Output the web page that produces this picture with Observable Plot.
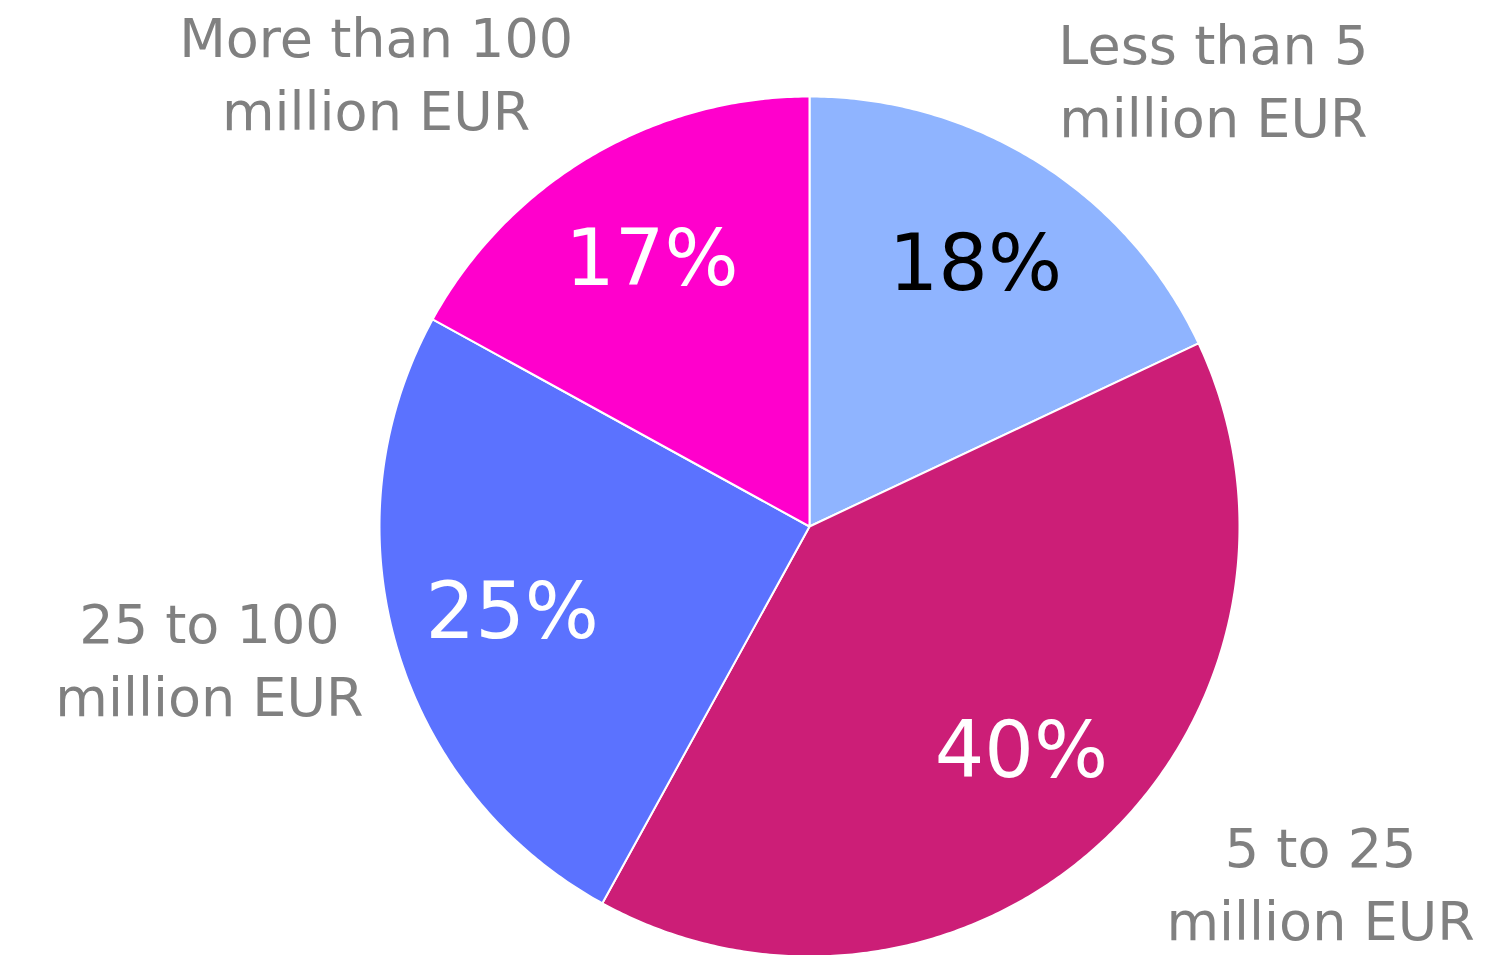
<!DOCTYPE html>
<html>
<head>
<meta charset="utf-8">
<script src="https://cdn.jsdelivr.net/npm/d3@7"></script>
<script src="https://cdn.jsdelivr.net/npm/@observablehq/plot@0.6"></script>
<style>
  html, body { margin: 0; padding: 0; background: #ffffff; }
  #chart svg { display: block; }
</style>
</head>
<body>
<div id="chart"></div>
<script>
// ---- data ----
const categories = ["Less than 5\nmillion EUR", "5 to 25\nmillion EUR", "25 to 100\nmillion EUR", "More than 100\nmillion EUR"];
const shares = [18, 40, 25, 17];
const sliceColors = ["#8FB4FF", "#CC1E77", "#5B72FF", "#FF00CC"];
const valueColors = ["#000000", "#FFFFFF", "#FFFFFF", "#FFFFFF"];

// ---- layout ----
const W = 1506, H = 955;
const CX = 809, CY = 526, RADIUS = 430;
const FONT = "'DejaVu Sans', 'Noto Sans', sans-serif";
const LABEL_SIZE = 54, LABEL_LH = 73, VALUE_SIZE = 78;

const data = categories.map((c, i) => ({cat: c, share: shares[i], color: sliceColors[i], vcolor: valueColors[i]}));
const arcs = d3.pie().sort(null).value(d => d.share)(data);

// slice polygons (unit radius, y up)
const pts = [];
arcs.forEach(a => {
  pts.push({cat: a.data.cat, color: a.data.color, x: 0, y: 0});
  const n = Math.max(2, Math.ceil((a.endAngle - a.startAngle) / (Math.PI / 360)));
  for (let k = 0; k <= n; k++) {
    const t = a.startAngle + (a.endAngle - a.startAngle) * k / n;
    pts.push({cat: a.data.cat, color: a.data.color, x: Math.sin(t), y: Math.cos(t)});
  }
});

// value labels inside slices
const valueLabels = arcs.map(a => {
  const m = (a.startAngle + a.endAngle) / 2;
  return {text: `${a.data.share}%`, color: a.data.vcolor, x: 0.72 * Math.sin(m), y: 0.72 * Math.cos(m)};
});

// outside category labels: box placed just outside the pie
const ctx = document.createElement("canvas").getContext("2d");
ctx.font = `${LABEL_SIZE}px ${FONT}`;
const R_OUT = RADIUS * 1.08;
const catLabels = arcs.map(a => {
  const m = (a.startAngle + a.endAngle) / 2;
  const lines = a.data.cat.split("\n");
  const w = d3.max(lines, l => ctx.measureText(l).width) / 2;
  const h = 57;
  const dx = Math.sin(m), dy = -Math.cos(m);
  const sx = Math.sign(dx) || 1, sy = Math.sign(dy) || 1;
  const oy = Math.abs(dx) > Math.abs(dy) ? 0 : sy * h;
  let X = CX + R_OUT * dx + sx * w;
  let Y = CY + R_OUT * dy + oy;
  const padTop = 8, padBottom = 18;
  const Yc = Math.min(H - h - padBottom, Math.max(h + padTop, Y));
  if (Yc !== Y) {
    Y = Yc;
    const cornerDy = Y - oy - CY;
    const ddx = Math.sqrt(Math.max(0, R_OUT * R_OUT - cornerDy * cornerDy));
    X = CX + sx * ddx + sx * w;
  }
  X = Math.min(W - w - 8, Math.max(w + 8, X));
  return {text: a.data.cat, x: (X - CX) / RADIUS, y: (CY - Y) / RADIUS};
});

const chart = Plot.plot({
  width: W,
  height: H,
  margin: 0,
  x: {domain: [-CX / RADIUS, (W - CX) / RADIUS], axis: null},
  y: {domain: [-(H - CY) / RADIUS, CY / RADIUS], axis: null},
  color: {type: "identity"},
  style: {fontFamily: FONT, background: "#ffffff"},
  marks: [
    Plot.line(pts, {x: "x", y: "y", z: "cat", fill: "color", stroke: "#ffffff", strokeWidth: 2, curve: "linear-closed", strokeLinejoin: "round"}),
    Plot.text(valueLabels, {x: "x", y: "y", text: "text", fill: "color", fontSize: VALUE_SIZE, lineAnchor: "middle", textAnchor: "middle"}),
    Plot.text(catLabels, {x: "x", y: "y", text: "text", fill: "#808080", fontSize: LABEL_SIZE, lineHeight: LABEL_LH / LABEL_SIZE, lineAnchor: "middle", textAnchor: "middle"})
  ]
});
document.getElementById("chart").appendChild(chart);
</script>
</body>
</html>
